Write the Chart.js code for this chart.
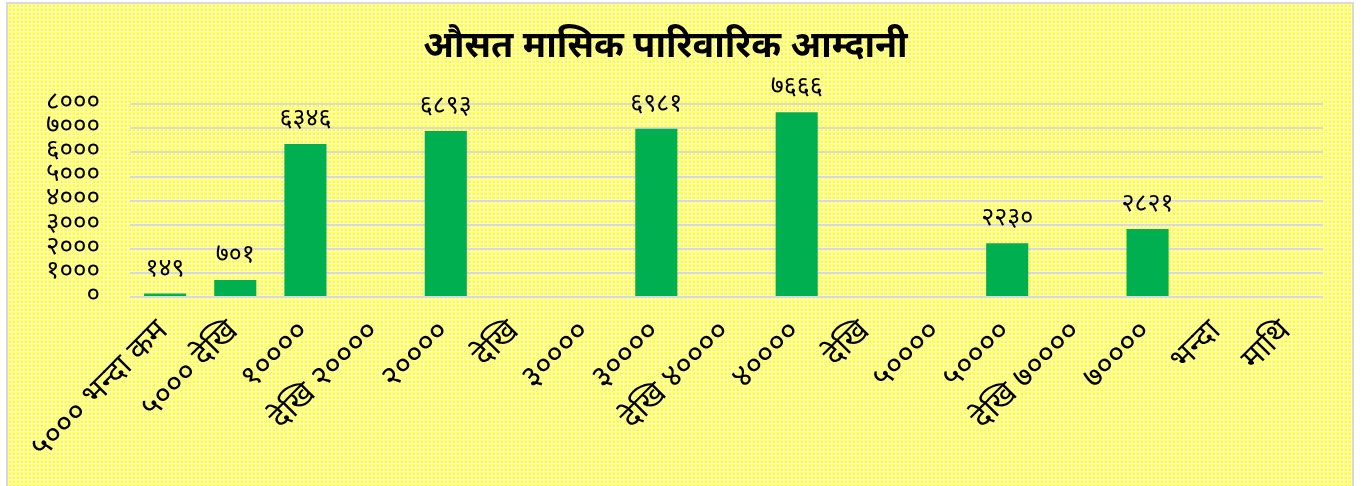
<!DOCTYPE html>
<html>
<head>
<meta charset="utf-8">
<script src="https://cdn.jsdelivr.net/npm/chart.js@4"></script>
<style>
  html, body { margin: 0; padding: 0; background: #fff; }
  #wrap { width: 1370px; height: 486px; }
</style>
</head>
<body>
<div id="wrap"><canvas id="bar-chart"></canvas></div>
<script>
var labels = ['५००० भन्दा कम', '५००० देखि', '१००००', 'देखि २००००', '२००००', 'देखि', '३००००', '३००००',
              'देखि ४००००', '४००००', 'देखि', '५००००', '५००००', 'देखि ७००००', '७००००', 'भन्दा', 'माथि'];
var income = [149, 701, 6346, null, 6893, null, null, 6981, null, 7666, null, null, 2230, null, 2821, null, null];
var yTicks = [0, 1000, 2000, 3000, 4000, 5000, 6000, 7000, 8000];

var devFont = '"Noto Sans Devanagari", "Lohit Devanagari", "Mukta", "Noto Sans", sans-serif';

function toDev(n){
    var d = '०१२३४५६७८९';
    return String(n).replace(/[0-9]/g, function(c){ return d[+c]; });
}

// dotted yellow fill like the excel chart area
function makePattern(ctx){
    var c = document.createElement('canvas');
    c.width = 4; c.height = 4;
    var p = c.getContext('2d');
    p.fillStyle = '#FFFFE0';
    p.fillRect(0, 0, 4, 4);
    p.fillStyle = '#FFFF88';
    p.fillRect(0, 0, 4, 1);
    p.fillRect(0, 0, 1, 4);
    p.fillStyle = '#FFFF20';
    p.fillRect(1, 1, 2, 2);
    return ctx.createPattern(c, 'repeat');
}

var background = {
    id: 'background',
    beforeDraw: function(chart){
        var ctx = chart.ctx;
        ctx.save();
        ctx.fillStyle = makePattern(ctx);
        ctx.fillRect(8, 4, 1344, 482);
        ctx.strokeStyle = '#D9D9D9';
        ctx.lineWidth = 2;
        ctx.strokeRect(7, 3, 1346, 490);
        ctx.restore();
    }
};

var valueLabels = {
    id: 'valueLabels',
    afterDatasetsDraw: function(chart){
        var ctx = chart.ctx;
        var meta = chart.getDatasetMeta(0);
        ctx.save();
        ctx.font = '25px ' + devFont;
        ctx.fillStyle = '#000';
        ctx.textAlign = 'center';
        ctx.textBaseline = 'bottom';
        meta.data.forEach(function(bar, i){
            var v = income[i];
            if (v === null) return;
            ctx.fillText(toDev(v), bar.x, bar.y - 10);
        });
        ctx.restore();
    }
};

new Chart(document.getElementById('bar-chart'), {
    type: 'bar',
    data: {
        labels: labels,
        datasets: [{
            label: 'आम्दानी',
            data: income,
            backgroundColor: '#00B050',
            barPercentage: 0.6,
            categoryPercentage: 1.0
        }]
    },
    options: {
        responsive: true,
        maintainAspectRatio: false,
        animation: false,
        layout: { padding: { left: 8, right: 47, top: 0, bottom: 0 } },
        plugins: {
            legend: { display: false },
            tooltip: { enabled: false },
            title: {
                display: true,
                text: 'औसत मासिक पारिवारिक आम्दानी',
                color: '#000',
                font: { family: devFont, size: 36, weight: 'bold', lineHeight: 1.2 },
                padding: { top: 29, bottom: 32 }
            }
        },
        scales: {
            x: {
                grid: { display: false },
                border: { display: false },
                ticks: {
                    autoSkip: false,
                    minRotation: 45,
                    maxRotation: 45,
                    padding: 10,
                    color: '#000',
                    font: { family: devFont, size: 31 }
                },
                afterFit: function(scale){ scale.height = 189; }
            },
            y: {
                min: 0,
                max: 8000,
                afterBuildTicks: function(scale){
                    scale.ticks = yTicks.map(function(v){ return { value: v }; });
                },
                grid: { color: '#D9D9D9', lineWidth: 2, drawTicks: false },
                border: { display: false },
                ticks: {
                    autoSkip: false,
                    padding: 30,
                    color: '#000',
                    font: { family: devFont, size: 26 },
                    callback: function(v){ return toDev(v); }
                },
                afterFit: function(scale){ scale.width = 122; }
            }
        }
    },
    plugins: [background, valueLabels]
});
</script>
</body>
</html>
